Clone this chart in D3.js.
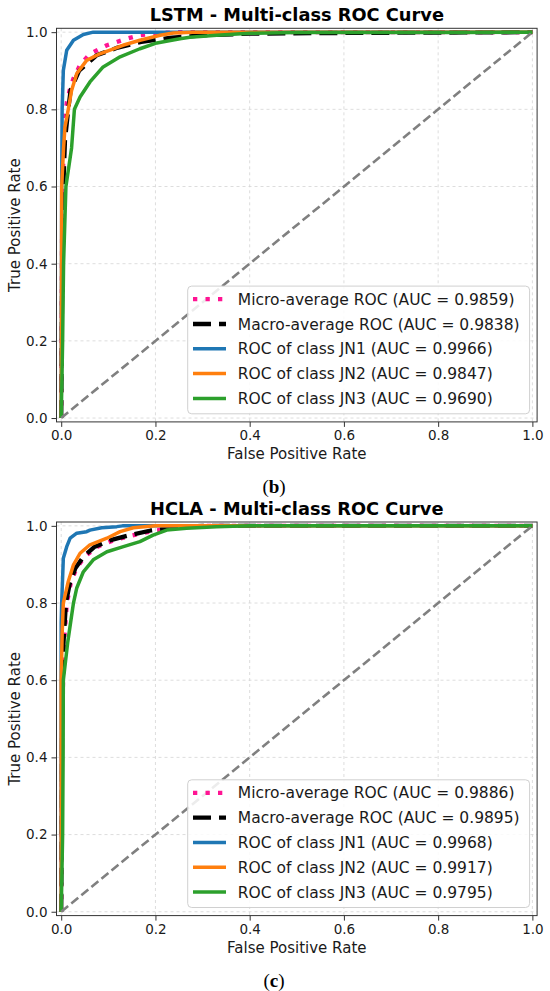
<!DOCTYPE html>
<html>
<head>
<meta charset="utf-8">
<script src="https://cdn.jsdelivr.net/npm/d3@7"></script>
<style>
  body { margin: 0; background: #fff; }
  svg { display: block; font-family: "DejaVu Sans", sans-serif; }
</style>
</head>
<body>
<div id="chart"></div>
<script>
// ticks shared by both panels
var tickValues = [0, 0.2, 0.4, 0.6, 0.8, 1.0];
var legendNames = ['Micro-average ROC', 'Macro-average ROC', 'ROC of class JN1', 'ROC of class JN2', 'ROC of class JN3'];

// (b) LSTM
var lstmAuc = [0.9859, 0.9838, 0.9966, 0.9847, 0.9690];
var lstmMicro = [[0,0],[0.002,0.5],[0.005,0.72],[0.008,0.78],[0.012,0.819],[0.018,0.85],[0.026,0.88],[0.04,0.915],[0.061,0.944],[0.097,0.966],[0.139,0.983],[0.167,0.992],[0.21,0.998],[0.25,1],[1,1]];
var lstmMacro = [[0,0],[0.003,0.55],[0.008,0.72],[0.015,0.8],[0.02,0.85],[0.038,0.9],[0.075,0.94],[0.12,0.96],[0.17,0.975],[0.23,0.985],[0.3,0.992],[0.4,0.996],[0.6,0.998],[1,1]];
var lstmJN1 = [[0,0],[0.001,0.6],[0.002,0.8],[0.0045,0.901],[0.0117,0.953],[0.026,0.979],[0.047,0.994],[0.068,1],[1,1]];
var lstmJN2 = [[0,0],[0.001,0.6],[0.005,0.7],[0.008,0.754],[0.015,0.8],[0.022,0.849],[0.033,0.893],[0.054,0.927],[0.082,0.944],[0.131,0.966],[0.167,0.979],[0.21,0.992],[0.238,0.998],[0.28,1],[1,1]];
var lstmJN3 = [[0,0],[0.003,0.2],[0.005,0.4],[0.01,0.6],[0.022,0.7],[0.025,0.75],[0.028,0.8],[0.04,0.832],[0.061,0.871],[0.089,0.91],[0.125,0.936],[0.167,0.957],[0.203,0.972],[0.252,0.983],[0.273,0.987],[0.33,0.992],[0.4,0.997],[0.5,0.999],[0.85,0.999],[1,1]];

// (c) HCLA
var hclaAuc = [0.9886, 0.9895, 0.9968, 0.9917, 0.9795];
var hclaMicro = [[0,0],[0.002,0.5],[0.006,0.7],[0.012,0.8],[0.02,0.85],[0.032,0.89],[0.05,0.92],[0.075,0.945],[0.11,0.962],[0.15,0.975],[0.2,0.988],[0.25,0.996],[0.3,1],[1,1]];
var hclaMacro = [[0,0],[0.002,0.55],[0.005,0.7],[0.01,0.8],[0.018,0.85],[0.03,0.89],[0.047,0.92],[0.07,0.945],[0.105,0.963],[0.145,0.976],[0.19,0.988],[0.24,0.996],[0.3,1],[1,1]];
var hclaJN1 = [[0,0],[0,0.748],[0.001,0.8],[0.0045,0.916],[0.0117,0.946],[0.019,0.968],[0.033,0.981],[0.054,0.985],[0.061,0.989],[0.086,0.995],[0.118,0.998],[0.13,1],[1,1]];
var hclaJN2 = [[0,0],[0,0.6],[0.002,0.72],[0.0045,0.8],[0.015,0.856],[0.026,0.899],[0.04,0.929],[0.061,0.951],[0.097,0.968],[0.125,0.985],[0.153,0.995],[0.2,1],[1,1]];
var hclaJN3 = [[0,0],[0.003,0.2],[0.004,0.4],[0.0045,0.6],[0.014,0.7],[0.026,0.8],[0.033,0.839],[0.047,0.881],[0.068,0.912],[0.097,0.933],[0.132,0.946],[0.167,0.959],[0.195,0.976],[0.224,0.989],[0.266,0.994],[0.33,0.998],[0.4,1],[1,1]];

var colors = ['deeppink', 'black', '#1f77b4', '#ff7f0e', '#2ca02c'];
var widths = [4.3, 4.3, 3.5, 3.5, 3.5];
var dashes = ['4.3,8.2', '18,8', null, null, null];

var W = 550, H = 991;
var svg = d3.select('#chart').append('svg').attr('width', W).attr('height', H);

var fmt = d3.format('.1f');

function drawPanel(top, title, caption, series, auc, id) {
  var bottom = top + 393.6, left = 56.5, right = 537.1;
  var x = d3.scaleLinear().domain([-0.01, 1.01]).range([left, right]);
  var y = d3.scaleLinear().domain([-0.01, 1.01]).range([bottom, top]);
  var g = svg.append('g');

  g.append('clipPath').attr('id', 'clip' + id)
    .append('rect').attr('x', left).attr('y', top).attr('width', right - left).attr('height', bottom - top);

  // grid
  g.append('g').selectAll('line.gx').data(tickValues).enter().append('line')
    .attr('x1', function(d) {return x(d);}).attr('x2', function(d) {return x(d);})
    .attr('y1', top).attr('y2', bottom)
    .style('stroke', '#d4d4d4').style('stroke-width', 0.8).style('stroke-dasharray', '3,3');
  g.append('g').selectAll('line.gy').data(tickValues).enter().append('line')
    .attr('y1', function(d) {return y(d);}).attr('y2', function(d) {return y(d);})
    .attr('x1', left).attr('x2', right)
    .style('stroke', '#d4d4d4').style('stroke-width', 0.8).style('stroke-dasharray', '3,3');

  var line = d3.line().x(function(d) {return x(d[0]);}).y(function(d) {return y(d[1]);});
  var lines = g.append('g').attr('clip-path', 'url(#clip' + id + ')');
  series.forEach(function(s, i) {
    lines.append('path').datum(s).attr('d', line)
      .style('fill', 'none').style('stroke', colors[i]).style('stroke-width', widths[i])
      .style('stroke-dasharray', dashes[i]).style('stroke-linejoin', 'round');
  });
  // chance line
  lines.append('path').datum([[0,0],[1,1]]).attr('d', line)
    .style('fill', 'none').style('stroke', 'gray').style('stroke-width', 2.6).style('stroke-dasharray', '9,4');

  // axes
  var xa = g.append('g').attr('transform', 'translate(0,' + bottom + ')')
    .call(d3.axisBottom(x).tickValues(tickValues).tickFormat(fmt).tickSize(5).tickPadding(4));
  var ya = g.append('g').attr('transform', 'translate(' + left + ',0)')
    .call(d3.axisLeft(y).tickValues(tickValues).tickFormat(fmt).tickSize(5).tickPadding(4));
  [xa, ya].forEach(function(a) {
    a.select('.domain').remove();
    a.selectAll('text').style('font-size', '13.5px').style('fill', '#1a1a1a').style('font-family', 'DejaVu Sans');
    a.selectAll('line').style('stroke', '#333');
  });
  g.append('rect').attr('x', left).attr('y', top).attr('width', right - left).attr('height', bottom - top)
    .style('fill', 'none').style('stroke', '#333').style('stroke-width', 1);

  // legend
  var lg = g.append('g');
  lg.append('rect').attr('x', 187.7).attr('y', bottom - 135.8).attr('width', 341.9).attr('height', 127.7)
    .attr('rx', 4).style('fill', 'white').style('fill-opacity', 0.85).style('stroke', '#d0d0d0');
  legendNames.forEach(function(n, i) {
    var cy = bottom - 122.7 + i * 24.8;
    lg.append('line').attr('x1', 193).attr('x2', 226).attr('y1', cy).attr('y2', cy)
      .style('stroke', colors[i]).style('stroke-width', widths[i]).style('stroke-dasharray', dashes[i]);
    lg.append('text').attr('x', 237.8).attr('y', cy).attr('dy', '0.36em')
      .style('font-size', '15.5px').style('fill', '#1a1a1a')
      .text(n + ' (AUC = ' + auc[i].toFixed(4) + ')');
  });

  // labels
  g.append('text').attr('x', (left + right) / 2).attr('y', top - 7).attr('text-anchor', 'middle')
    .style('font-size', '17.8px').style('font-weight', 'bold').text(title);
  g.append('text').attr('x', (left + right) / 2).attr('y', bottom + 37.5).attr('text-anchor', 'middle')
    .style('font-size', '15px').style('fill', '#1a1a1a').text('False Positive Rate');
  g.append('text').attr('transform', 'translate(20,' + ((top + bottom) / 2) + ') rotate(-90)')
    .attr('text-anchor', 'middle').style('font-size', '15px').style('fill', '#1a1a1a').text('True Positive Rate');

  var cap = g.append('text').attr('x', 274).attr('y', bottom + 71).attr('text-anchor', 'middle')
    .style('font-family', 'Liberation Serif, serif').style('font-size', '19px');
  cap.append('tspan').text('(');
  cap.append('tspan').style('font-weight', 'bold').text(caption);
  cap.append('tspan').text(')');
}

drawPanel(28.3, 'LSTM - Multi-class ROC Curve', 'b', [lstmMicro, lstmMacro, lstmJN1, lstmJN2, lstmJN3], lstmAuc, 1);
drawPanel(522, 'HCLA - Multi-class ROC Curve', 'c', [hclaMicro, hclaMacro, hclaJN1, hclaJN2, hclaJN3], hclaAuc, 2);
</script>
</body>
</html>
